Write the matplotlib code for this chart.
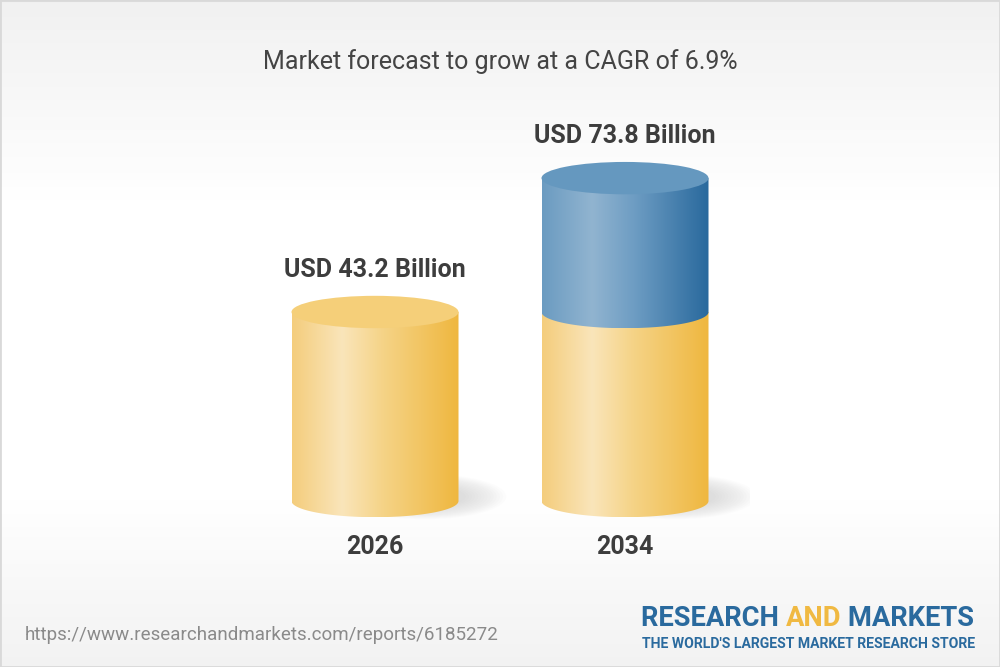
import numpy as np
import matplotlib.pyplot as plt
from matplotlib.colors import LinearSegmentedColormap
from matplotlib.patches import Ellipse, Rectangle, Polygon

plt.rcParams['font.family'] = ['Roboto', 'DejaVu Sans']

# data
years = ['2026', '2034']
values = [43.2, 73.8]
value_labels = ['USD 43.2 Billion', 'USD 73.8 Billion']
title = 'Market forecast to grow at a CAGR of 6.9%'
url = 'https://www.researchandmarkets.com/reports/6185272'

yellow = LinearSegmentedColormap.from_list('yel', [(0, '#f4cd7c'), (0.3, '#fae5ba'), (0.55, '#f5d386'), (1, '#efb73f')])
blue = LinearSegmentedColormap.from_list('blu', [(0, '#6b9bc1'), (0.3, '#91b4d0'), (0.55, '#6e9dc3'), (1, '#29699d')])
yellow_top = '#f5cf79'
blue_top = '#6598bf'

fig = plt.figure(figsize=(10, 6.67), dpi=100)

# background
bg = fig.add_axes([0, 0, 1, 1])
grad = np.interp(np.linspace(0, 1, 200), [0, 0.3, 0.75, 1], [0.945, 1.0, 1.0, 0.95])
bg.imshow(np.repeat(grad[:, None], 3, axis=1)[:, None, :] * np.ones((1, 2, 1)), aspect='auto', extent=[0, 1, 0, 1])
bg.add_patch(Rectangle((0, 0), 1, 1, transform=bg.transAxes, fill=False, ec='#d9d9d9', lw=2))
bg.set_xlim(0, 1)
bg.set_ylim(0, 1)
bg.axis('off')

# 4.375 px per unit, value 0 at y=501px
ax = fig.add_axes([0.25, (667 - 501 - 10 * 4.375) / 667, 0.5, 100 * 4.375 / 667])
ax.set_xlim(-0.5, 1.5)
ax.set_ylim(-10, 90)
ax.axis('off')

w = 0.668
eh = 3.7
gradimg = np.linspace(0, 1, 256)[None, :]


def body(xc, y0, y1, cmap, z):
    t = np.linspace(np.pi, 2 * np.pi, 80)
    arc = np.column_stack([xc + w / 2 * np.cos(t), y0 + eh * np.sin(t)])
    pts = np.vstack([arc, [[xc + w / 2, y1], [xc - w / 2, y1]]])
    poly = Polygon(pts, closed=True, fc='none', ec='none')
    ax.add_patch(poly)
    im = ax.imshow(gradimg, cmap=cmap, aspect='auto', extent=[xc - w / 2, xc + w / 2, y0 - eh, y1],
                   zorder=z, interpolation='bilinear')
    im.set_clip_path(poly)


for i, v in enumerate(values):
    # soft shadow
    for k in range(14):
        s = 1 - k / 14
        ax.add_patch(Ellipse((i + 0.2, 1.0), 0.3 + 0.35 * s, 2 * eh * (0.6 + 0.8 * s), fc='#8a8a8a',
                             alpha=0.018, ec='none', zorder=1))
    segs = [(0, values[0], yellow, yellow_top)]
    if v > values[0]:
        segs.append((values[0], v, blue, blue_top))
    for j, (a, b, cm, tc) in enumerate(segs):
        body(i, a, b, cm, 2 + j)
    ax.add_patch(Ellipse((i, v), w, 2 * eh, fc=segs[-1][3], ec='none', zorder=5))
    ax.annotate(value_labels[i], (i, v), xytext=(0, 42), textcoords='offset pixels', ha='center',
                va='center', fontsize=18, fontweight='bold', color='#3d3d3d', annotation_clip=False)
    ax.annotate(years[i], (i, 0), xytext=(0, -46), textcoords='offset pixels', ha='center',
                va='center', fontsize=18, fontweight='bold', color='#3d3d3d', annotation_clip=False)

ax.set_xlim(-0.5, 1.5)
ax.set_ylim(-10, 90)

fig.text(0.5, 1 - 62 / 667, title, ha='center', va='center', fontsize=18, color='#444444')
fig.text(0.025, 1 - 635 / 667, url, ha='left', va='center', fontsize=13.5, color='#8a8a8a')

# logo
fig.canvas.draw()
r = fig.canvas.get_renderer()
x = 0.641
for part, col in [('RESEARCH ', '#2a6a9e'), ('AND', '#f0b942'), (' MARKETS', '#2a6a9e')]:
    t = fig.text(x, 1 - 618 / 667, part, ha='left', va='center', fontsize=19.7, fontweight='bold', color=col)
    x += t.get_window_extent(r).width / 1000
fig.text(0.975, 1 - 644 / 667, "THE WORLD'S LARGEST MARKET RESEARCH STORE", ha='right', va='center',
         fontsize=10.1, fontweight='bold', color='#2a6a9e')

fig.savefig('out.png', dpi=100)
